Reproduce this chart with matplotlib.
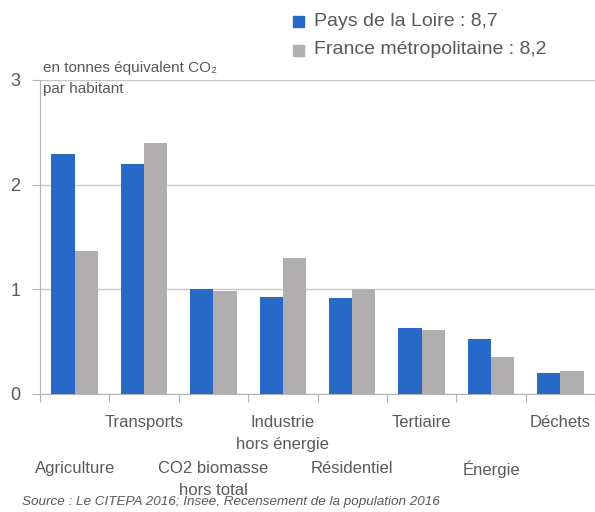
import numpy as np
import matplotlib.pyplot as plt
from matplotlib.transforms import blended_transform_factory

plt.rcParams['font.family'] = ['Liberation Sans', 'DejaVu Sans']

categories = ['Agriculture', 'Transports', 'CO2 biomasse\nhors total', 'Industrie\nhors énergie',
              'Résidentiel', 'Tertiaire', 'Énergie', 'Déchets']
pdl = [2.29, 2.20, 1.00, 0.93, 0.92, 0.63, 0.53, 0.20]
france = [1.37, 2.40, 0.98, 1.30, 1.00, 0.61, 0.35, 0.22]
series_labels = ['Pays de la Loire : 8,7', 'France métropolitaine : 8,2']

blue = '#2869c8'
gray = '#b0aeaf'
txt = '#595959'

fig = plt.figure(figsize=(5.95, 5.12), dpi=100)
ax = fig.add_axes([40 / 595, 1 - 394 / 512, 555 / 595, 314 / 512])

x = np.arange(len(categories))
w = 0.335
ax.bar(x - w / 2, pdl, w, color=blue, zorder=3)
ax.bar(x + w / 2, france, w, color=gray, zorder=3)

ax.set_xlim(-0.5, len(categories) - 0.5)
ax.set_ylim(0, 3)
ax.set_yticks([0, 1, 2, 3])
ax.set_yticklabels(['0', '1', '2', '3'], fontsize=13, color=txt)
ax.tick_params(axis='y', length=6, color='#b3b3b3', pad=8)
ax.set_xticks(np.arange(len(categories) + 1) - 0.5)
ax.set_xticklabels([])
ax.tick_params(axis='x', length=6, color='#b3b3b3')
ax.grid(axis='y', color='#c8c8c8', lw=1, zorder=0)
for s in ['top', 'right']:
    ax.spines[s].set_visible(False)
for s in ['left', 'bottom']:
    ax.spines[s].set_color('#b3b3b3')

# staggered category labels
tr = blended_transform_factory(ax.transData, fig.transFigure)
for i, lab in enumerate(categories):
    ytop = 1 - 415 / 512 if i % 2 == 1 else 1 - 461 / 512
    ax.text(i, ytop, lab, transform=tr, ha='center', va='top', fontsize=12,
            color=txt, linespacing=1.6)

# legend
fig.patches.append(plt.Rectangle((293 / 595, 1 - 27 / 512), 11 / 595, 11 / 512,
                                 transform=fig.transFigure, color=blue))
fig.patches.append(plt.Rectangle((293 / 595, 1 - 56 / 512), 11 / 595, 11 / 512,
                                 transform=fig.transFigure, color=gray))
fig.text(314 / 595, 1 - 21 / 512, series_labels[0], fontsize=14, color=txt, va='center')
fig.text(314 / 595, 1 - 50 / 512, series_labels[1], fontsize=14, color=txt, va='center')

fig.text(43 / 595, 1 - 68 / 512, 'en tonnes équivalent CO₂', fontsize=11, color=txt, va='center')
fig.text(43 / 595, 1 - 89 / 512, 'par habitant', fontsize=11, color=txt, va='center')

fig.text(22 / 595, 1 - 502 / 512, 'Source : Le CITEPA 2016; Insee, Recensement de la population 2016',
         fontsize=9.7, style='italic', color=txt, va='center')

fig.savefig('out.png', dpi=100)
